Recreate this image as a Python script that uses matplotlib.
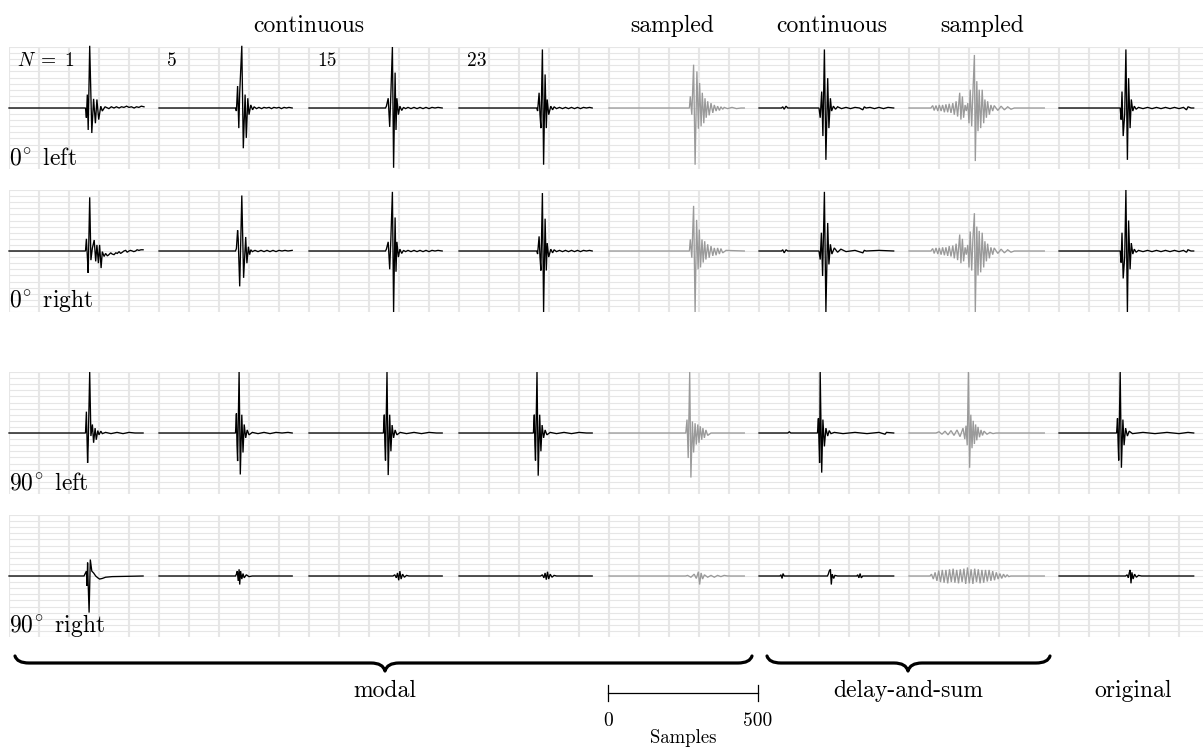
import numpy as np
import matplotlib
matplotlib.use("Agg")
import matplotlib.pyplot as plt
from matplotlib.path import Path
from matplotlib.patches import PathPatch

# ---------------- data (sample index, amplitude) ----------------
row_labels = [r"$0^{\!\circ}$ left", r"$0^{\!\circ}$ right", r"$90^{\!\circ}$ left", r"$90^{\!\circ}$ right"]
order_labels = [r"$N\;=\;1$", "5", "15", "23"]
top_labels = ["continuous", "sampled", "continuous", "sampled"]
group_labels = ["modal", "delay-and-sum", "original"]
scale_ticks = [0, 500]
scale_label = "Samples"
col_kind = ["cont", "cont", "cont", "cont", "samp", "cont", "samp", "cont"]

# Row 1: 0 deg left
t11 = [0, 255, 258, 261, 264, 269, 276, 282, 288, 293, 299, 306, 311, 320, 333, 341, 350, 358, 367, 375, 383, 392, 400, 408, 417, 425, 433, 441, 450]
a11 = [0, 0, -0.16, 0.22, -0.36, 1.02, -0.41, 0.15, -0.25, 0.14, -0.19, 0.03, -0.05, 0.02, -0.01, 0.02, 0.0, 0.02, 0.0, 0.02, 0.01, 0.03, 0.01, 0.02, 0.0, 0.02, 0.01, 0.03, 0.02]
t12 = [0, 255, 258, 262, 266, 269, 276, 281, 287, 291, 296, 300, 306, 312, 317, 325, 333, 342, 350, 358, 367, 375, 383, 392, 400, 408, 417, 425, 433, 444]
a12 = [0, 0, -0.05, 0.36, -0.33, 0.25, 1.02, -0.66, 0.22, -0.49, 0.16, -0.11, 0.05, -0.03, 0.02, -0.01, 0.01, -0.01, 0.01, 0.0, 0.01, -0.01, 0.01, 0.0, 0.01, -0.01, 0.01, 0.0, 0.01, 0.0]
t13 = [0, 255, 258, 264, 269, 273, 278, 282, 287, 290, 293, 298, 303, 309, 315, 322, 330, 340, 350, 360, 370, 380, 390, 400, 410, 420, 430, 444]
a13 = [0, 0, 0.03, 0.16, -0.31, 0.25, 1.0, -0.98, 0.58, -0.36, 0.16, -0.11, 0.03, -0.04, 0.01, -0.01, 0.01, -0.01, 0.01, -0.01, 0.01, -0.01, 0.01, -0.01, 0.01, 0, 0.01, 0]
t14 = [0, 259, 262, 267, 270, 273, 278, 282, 287, 291, 294, 299, 306, 312, 317, 325, 335, 345, 355, 365, 375, 385, 395, 405, 415, 425, 435, 444]
a14 = [0, 0, -0.05, 0.25, -0.11, -0.33, 0.96, -0.93, 0.55, -0.33, 0.14, -0.11, 0.03, -0.03, 0.02, -0.01, 0.01, -0.01, 0.01, -0.01, 0.01, -0.01, 0.01, -0.01, 0.01, 0, 0.01, 0]
t15 = [0, 268, 271, 276, 282, 287, 293, 298, 302, 307, 311, 316, 320, 324, 329, 334, 340, 346, 351, 357, 362, 368, 373, 379, 384, 395, 410, 425, 440, 451]
a15 = [0, 0, 0.19, -0.11, 0.71, -0.93, 0.6, -0.34, 0.41, -0.3, 0.25, -0.25, 0.16, -0.16, 0.11, -0.12, 0.08, -0.08, 0.05, -0.05, 0.03, -0.04, 0.02, -0.02, 0.01, -0.01, 0.01, -0.01, 0.0, 0]
t16 = [0, 75, 79, 84, 90, 96, 200, 204, 209, 213, 218, 223, 229, 233, 238, 242, 248, 255, 262, 275, 290, 305, 320, 335, 346, 351, 357, 370, 385, 400, 415, 430, 449]
a16 = [0, 0, 0.02, -0.02, 0.03, 0, 0, -0.16, 0.27, -0.46, 0.96, -0.85, 0.49, -0.33, 0.16, -0.05, 0.03, -0.02, 0.02, -0.01, 0.01, -0.01, 0.01, 0, -0.03, 0.02, 0, 0.01, -0.01, 0.01, -0.01, 0.01, 0]
t17 = [0, 73, 79, 84, 90, 96, 101, 107, 112, 118, 123, 129, 134, 140, 146, 151, 157, 162, 169, 173, 178, 182, 187, 191, 196, 200, 204, 209, 213, 218, 221, 226, 230, 234, 239, 244, 249, 253, 258, 262, 268, 273, 279, 284, 296, 307, 318, 329, 340, 351, 451]
a17 = [0, 0, 0.04, -0.04, 0.04, -0.05, 0.05, -0.05, 0.05, -0.07, 0.06, -0.07, 0.07, -0.08, 0.08, -0.11, 0.11, -0.14, 0.25, -0.19, 0.19, -0.16, 0.05, -0.05, 0.08, -0.25, 0.3, -0.3, 0.25, 0.87, -0.87, 0.44, -0.38, 0.3, -0.33, 0.3, -0.25, 0.14, -0.16, 0.11, -0.11, 0.05, -0.05, 0.04, -0.04, 0.03, -0.03, 0.02, -0.02, 0, 0]
t18 = [0, 204, 207, 210, 214, 219, 223, 228, 232, 237, 241, 246, 251, 257, 265, 280, 295, 310, 325, 340, 355, 370, 385, 400, 415, 425, 430, 440, 449]
a18 = [0, 0, -0.19, 0.27, -0.46, -0.1, 0.96, -0.85, 0.49, -0.33, 0.14, -0.05, 0.03, -0.02, 0.01, -0.01, 0.01, -0.01, 0.01, -0.01, 0.01, -0.01, 0.01, -0.01, 0.01, -0.03, 0.02, 0.0, 0]

# Row 2: 0 deg right
t21 = [0, 255, 258, 262, 264, 269, 273, 278, 284, 289, 293, 298, 302, 307, 311, 317, 322, 328, 333, 339, 344, 350, 356, 361, 367, 372, 378, 383, 389, 394, 400, 405, 411, 416, 422, 427, 433, 440, 447]
a21 = [0, 0, 0.2, -0.17, -0.36, 0.88, -0.15, 0.05, 0.18, -0.17, 0.1, -0.2, 0.1, -0.28, -0.01, -0.09, -0.04, -0.08, -0.06, -0.03, -0.05, -0.06, -0.03, -0.04, -0.01, -0.04, -0.02, 0.0, 0.01, -0.02, 0.0, 0.01, 0.0, -0.01, 0.0, 0.02, 0.01, 0.02, 0.02]
t22 = [0, 255, 258, 262, 264, 269, 276, 282, 289, 293, 298, 302, 306, 311, 320, 330, 340, 350, 360, 370, 380, 390, 400, 410, 420, 430, 444]
a22 = [0, 0, 0.04, 0.34, 0.2, -0.58, 0.91, -0.44, 0.23, -0.2, 0.07, -0.06, 0.02, -0.01, 0.01, -0.01, 0.01, -0.01, 0.01, -0.01, 0.01, -0.01, 0.01, 0, 0.01, 0.0, 0.01]
t23 = [0, 255, 258, 264, 269, 273, 278, 282, 287, 290, 293, 298, 303, 309, 315, 322, 330, 340, 350, 360, 370, 380, 390, 400, 410, 420, 430, 444]
a23 = [0, 0, 0.03, 0.15, -0.3, 0.22, 0.97, -1.0, 0.55, -0.34, 0.15, -0.1, 0.03, -0.04, 0.01, -0.01, 0.01, -0.01, 0.01, -0.01, 0.01, -0.01, 0.01, -0.01, 0.01, 0, 0.01, 0]
t24 = [0, 259, 262, 267, 270, 273, 278, 282, 287, 291, 294, 299, 306, 312, 317, 325, 335, 345, 355, 365, 375, 385, 395, 405, 415, 425, 435, 444]
a24 = [0, 0, -0.05, 0.24, -0.1, -0.32, 0.95, -1.0, 0.53, -0.32, 0.13, -0.1, 0.03, -0.03, 0.02, -0.01, 0.01, -0.01, 0.01, -0.01, 0.01, -0.01, 0.01, -0.01, 0.01, 0, 0.01, 0]
t25 = [0, 268, 271, 276, 282, 287, 292, 297, 301, 305, 310, 314, 319, 323, 329, 334, 340, 346, 351, 357, 362, 368, 373, 379, 390, 451]
a25 = [0, 0, 0.19, -0.11, 0.74, -1.0, 0.51, -0.3, 0.35, -0.27, 0.19, -0.19, 0.16, -0.14, 0.11, -0.11, 0.08, -0.08, 0.05, -0.07, 0.05, -0.05, 0.04, -0.03, 0.01, 0]
t26 = [0, 75, 79, 84, 90, 96, 200, 204, 208, 212, 218, 223, 229, 233, 238, 243, 251, 262, 273, 290, 320, 346, 351, 357, 400, 449]
a26 = [0, 0, 0.02, -0.03, 0.02, 0, 0, -0.14, 0.3, -0.41, 0.97, -1.0, 0.46, -0.22, 0.11, -0.05, 0.05, -0.02, 0.03, -0.01, 0.01, -0.03, 0.01, 0, 0.01, 0]
t27 = [0, 73, 79, 84, 90, 96, 101, 107, 112, 118, 123, 129, 134, 140, 146, 151, 157, 162, 169, 173, 178, 182, 187, 191, 196, 200, 204, 209, 213, 218, 221, 226, 230, 234, 239, 244, 249, 253, 258, 262, 268, 273, 279, 284, 296, 307, 318, 329, 340, 351, 451]
a27 = [0, 0, 0.04, -0.04, 0.05, -0.05, 0.05, -0.06, 0.06, -0.07, 0.06, -0.08, 0.08, -0.09, 0.09, -0.12, 0.12, -0.15, 0.27, -0.2, 0.2, -0.17, 0.06, -0.06, 0.1, -0.27, 0.32, -0.32, 0.2, 0.62, -1.0, 0.4, -0.4, 0.33, -0.35, 0.3, -0.27, 0.16, -0.17, 0.12, -0.12, 0.06, -0.06, 0.05, -0.04, 0.03, -0.03, 0.02, -0.02, 0, 0]
t28 = [0, 204, 207, 210, 214, 219, 223, 228, 232, 237, 241, 246, 251, 257, 265, 280, 295, 310, 325, 340, 355, 370, 385, 400, 415, 425, 430, 440, 449]
a28 = [0, 0, -0.19, 0.3, -0.45, -0.1, 1.0, -1.0, 0.5, -0.3, 0.13, -0.05, 0.03, -0.02, 0.01, -0.01, 0.01, -0.01, 0.01, -0.01, 0.01, -0.01, 0.01, -0.01, 0.01, -0.02, 0.02, 0.0, 0]

# Row 3: 90 deg left
t31 = [0, 255, 258, 262, 264, 269, 273, 278, 282, 287, 291, 296, 300, 306, 311, 322, 340, 360, 380, 400, 420, 447]
a31 = [0, 0, 0.35, -0.49, -0.2, 1.0, -0.05, 0.14, -0.16, 0.08, -0.11, 0.04, -0.03, 0.03, -0.01, 0.01, -0.01, 0.01, -0.01, 0.01, 0.0, 0]
t32 = [0, 255, 258, 260, 262, 267, 271, 276, 280, 284, 289, 294, 300, 311, 330, 350, 370, 390, 410, 430, 444]
a32 = [0, 0, 0.32, -0.19, -0.46, 1.0, -0.68, 0.3, -0.32, 0.14, -0.08, 0.05, -0.03, 0.01, -0.01, 0.01, -0.01, 0.01, 0.0, 0.01, 0]
t33 = [0, 248, 251, 253, 255, 260, 264, 269, 273, 277, 282, 287, 293, 304, 325, 350, 375, 400, 425, 444]
a33 = [0, 0, 0.3, -0.2, -0.45, 1.0, -0.69, 0.3, -0.3, 0.13, -0.08, 0.05, -0.03, 0.01, -0.01, 0.01, -0.01, 0.01, 0.0, 0]
t34 = [0, 248, 251, 253, 255, 260, 264, 269, 273, 277, 282, 287, 293, 304, 325, 350, 375, 400, 425, 444]
a34 = [0, 0, 0.3, -0.2, -0.45, 1.0, -0.7, 0.3, -0.3, 0.13, -0.08, 0.05, -0.03, 0.01, -0.01, 0.01, -0.01, 0.01, 0.0, 0]
t35 = [0, 256, 260, 264, 269, 273, 278, 282, 287, 291, 296, 300, 304, 309, 313, 318, 323, 329, 340, 451]
a35 = [0, 0, 0.22, -0.41, 1.0, -0.73, 0.19, -0.32, 0.16, -0.19, 0.14, -0.16, 0.11, -0.11, 0.08, -0.08, 0.05, -0.04, 0, 0]
t36 = [0, 96, 101, 106, 195, 198, 200, 202, 204, 209, 213, 218, 223, 229, 234, 240, 251, 280, 320, 360, 400, 420, 425, 449]
a36 = [0, 0, 0.02, 0, 0, 0.24, -0.16, -0.49, 1.0, -0.65, 0.22, -0.22, 0.08, -0.05, 0.04, -0.01, 0.01, -0.01, 0.01, -0.01, 0.01, -0.02, 0.01, 0]
t37 = [0, 90, 100, 110, 120, 130, 140, 150, 160, 170, 180, 186, 190, 194, 198, 202, 206, 210, 214, 218, 222, 226, 230, 235, 240, 245, 250, 260, 270, 280, 290, 451]
a37 = [0, 0, 0.02, -0.02, 0.03, -0.03, 0.04, -0.04, 0.05, -0.06, 0.08, -0.1, 0.12, -0.2, 1.0, -0.57, 0.3, -0.25, 0.2, -0.18, 0.14, -0.12, 0.1, -0.07, 0.05, -0.04, 0.03, -0.02, 0.01, -0.01, 0, 0]
t38 = [0, 192, 195, 197, 199, 204, 208, 213, 217, 222, 228, 234, 245, 280, 320, 360, 400, 430, 449]
a38 = [0, 0, 0.24, -0.16, -0.45, 1.0, -0.57, 0.22, -0.2, 0.08, -0.05, 0.03, -0.01, 0.01, -0.01, 0.01, -0.01, 0.01, 0]

# Row 4: 90 deg right
t41 = [0, 250, 253, 258, 260, 262, 264, 267, 271, 276, 282, 289, 296, 302, 311, 322, 344, 447]
a41 = [0, 0, 0.03, 0.08, -0.16, 0.22, -0.14, -0.6, 0.27, 0.08, 0.05, 0.0, -0.03, -0.05, -0.04, -0.02, -0.01, 0]
t42 = [0, 255, 258, 261, 264, 267, 269, 272, 276, 280, 284, 291, 300, 311, 444]
a42 = [0, 0, 0.03, 0.08, -0.08, 0.11, -0.14, 0.08, -0.05, 0.04, -0.03, 0.02, -0.01, 0, 0]
t43 = [0, 280, 286, 291, 295, 299, 303, 307, 312, 318, 325, 333, 444]
a43 = [0, 0, 0.02, -0.03, 0.05, -0.07, 0.08, -0.05, 0.03, -0.02, 0.01, 0, 0]
t44 = [0, 272, 278, 283, 287, 291, 295, 299, 304, 310, 317, 325, 444]
a44 = [0, 0, 0.02, -0.03, 0.05, -0.06, 0.07, -0.05, 0.03, -0.02, 0.01, 0, 0]
t45 = [0, 255, 262, 273, 284, 291, 298, 302, 307, 312, 318, 329, 340, 351, 362, 373, 384, 396, 451]
a45 = [0, 0, 0.01, -0.02, 0.03, -0.04, 0.07, -0.14, 0.05, -0.05, 0.02, -0.02, 0.01, -0.02, 0.01, -0.01, 0.01, 0, 0]
t46 = [0, 70, 73, 77, 80, 84, 228, 231, 234, 238, 241, 244, 249, 253, 262, 326, 329, 333, 337, 341, 346, 449]
a46 = [0, 0, 0.02, -0.04, 0.04, 0, 0, 0.03, 0.08, 0.11, -0.14, 0.03, -0.04, 0.01, 0, 0, 0.02, -0.03, 0.04, -0.03, 0, 0]
t47 = [0, 70, 75, 81, 87, 93, 99, 105, 111, 117, 123, 129, 135, 141, 147, 153, 159, 165, 171, 177, 183, 189, 195, 201, 207, 213, 219, 225, 231, 237, 243, 249, 255, 261, 267, 273, 279, 285, 291, 297, 303, 309, 315, 321, 327, 333, 339, 451]
a47 = [0, 0, 0.03, -0.05, 0.06, -0.08, 0.09, -0.1, 0.1, -0.11, 0.1, -0.12, 0.11, -0.1, 0.12, -0.11, 0.1, -0.12, 0.11, -0.1, 0.12, -0.13, 0.14, -0.12, 0.11, -0.13, 0.12, -0.1, 0.11, -0.12, 0.1, -0.11, 0.1, -0.09, 0.1, -0.08, 0.08, -0.07, 0.06, -0.05, 0.04, -0.04, 0.03, -0.02, 0.02, -0.01, 0, 0]
t48 = [0, 222, 227, 231, 234, 237, 240, 243, 247, 252, 258, 265, 275, 449]
a48 = [0, 0, 0.02, -0.03, 0.05, 0.1, -0.12, 0.06, -0.05, 0.03, -0.02, 0.01, 0, 0]

waves = [
    [(t11, a11), (t12, a12), (t13, a13), (t14, a14), (t15, a15), (t16, a16), (t17, a17), (t18, a18)],
    [(t21, a21), (t22, a22), (t23, a23), (t24, a24), (t25, a25), (t26, a26), (t27, a27), (t28, a28)],
    [(t31, a31), (t32, a32), (t33, a33), (t34, a34), (t35, a35), (t36, a36), (t37, a37), (t38, a38)],
    [(t41, a41), (t42, a42), (t43, a43), (t44, a44), (t45, a45), (t46, a46), (t47, a47), (t48, a48)],
]

# ---------------- layout / style ----------------
plt.rcParams["mathtext.fontset"] = "cm"
plt.rcParams["font.family"] = ["cmr10", "DejaVu Serif"]
plt.rcParams["axes.formatter.use_mathtext"] = True

W, H = 1203, 749
fig = plt.figure(figsize=(W / 100, H / 100), dpi=100)

col_left = [9 + 150 * k for k in range(8)]
row_top = [47, 190, 372, 515]
PW, PH = 150, 122
line_col = {"cont": "black", "samp": "#9a9a9a"}
grid_col = "#e6e6e6"


def fig_rect(x, y, w, h):
    return [x / W, 1 - (y + h) / H, w / W, h / H]


for r in range(4):
    for c in range(8):
        ax = fig.add_axes(fig_rect(col_left[c], row_top[r], PW, PH))
        ax.set_xlim(0, 500)
        ax.set_ylim(-1, 1)
        ax.set_xticks(np.arange(0, 501, 100))
        ax.set_yticks(np.linspace(-1, 1, 21))
        ax.tick_params(length=0, labelbottom=False, labelleft=False)
        ax.grid(True, axis="x", color=grid_col, lw=1.5)
        ax.grid(True, axis="y", color=grid_col, lw=0.8)
        ax.set_axisbelow(True)
        for s in ax.spines.values():
            s.set_visible(False)
        ax.patch.set_alpha(0)
        t, a = waves[r][c]
        ax.plot(t, a, color=line_col[col_kind[c]], lw=0.95, solid_joinstyle="miter", clip_on=False)
        if c == 0:
            ax.text(0.0, 0.04, row_labels[r], transform=ax.transAxes, fontsize=17,
                    ha="left", va="baseline")
        if r == 0 and c < 4:
            ax.text(0.055, 0.845, order_labels[c], transform=ax.transAxes, fontsize=14,
                    ha="left", va="baseline")

# overlay in pixel coordinates for annotations
ov = fig.add_axes([0, 0, 1, 1])
ov.set_xlim(0, W)
ov.set_ylim(H, 0)
ov.axis("off")
ov.patch.set_alpha(0)

top_x = [309, 672, 832, 982]
for lbl, x in zip(top_labels, top_x):
    ov.text(x, 32, lbl, fontsize=17, ha="center", va="baseline")


def brace(x0, x1, xm, y, dy_end=7, dy_tip=8, r=14):
    verts = [(x0, y - dy_end), (x0 + 2, y), (x0 + r, y),
             (xm - r, y), (xm - 2, y), (xm, y + dy_tip),
             (xm + 2, y), (xm + r, y),
             (x1 - r, y), (x1 - 2, y), (x1, y - dy_end)]
    codes = [Path.MOVETO, Path.CURVE3, Path.CURVE3,
             Path.LINETO, Path.CURVE3, Path.CURVE3,
             Path.CURVE3, Path.CURVE3,
             Path.LINETO, Path.CURVE3, Path.CURVE3]
    ov.add_patch(PathPatch(Path(verts, codes), fill=False, lw=2.3, color="black",
                           capstyle="round", joinstyle="round"))


brace(15, 752, 385, 663)
brace(767, 1050, 908, 663)

ov.text(385, 697, group_labels[0], fontsize=17, ha="center", va="baseline")
ov.text(908, 697, group_labels[1], fontsize=17, ha="center", va="baseline")
ov.text(1133, 697, group_labels[2], fontsize=17, ha="center", va="baseline")

# scale bar with same sample scale as the panels
sb = fig.add_axes(fig_rect(608, 640, PW, 109))
sb.set_xlim(0, 500)
sb.set_ylim(749, 640)
sb.axis("off")
sb.patch.set_alpha(0)
bar_y = 693
sb.plot([scale_ticks[0], scale_ticks[1]], [bar_y, bar_y], color="black", lw=0.9, clip_on=False)
for tk in scale_ticks:
    sb.plot([tk, tk], [bar_y - 8, bar_y + 8], color="black", lw=0.9, clip_on=False)
    sb.text(tk, 726, str(tk), fontsize=14, ha="center", va="baseline")
sb.text(250, 743, scale_label, fontsize=13.5, ha="center", va="baseline")

fig.savefig("out.png", dpi=100)
